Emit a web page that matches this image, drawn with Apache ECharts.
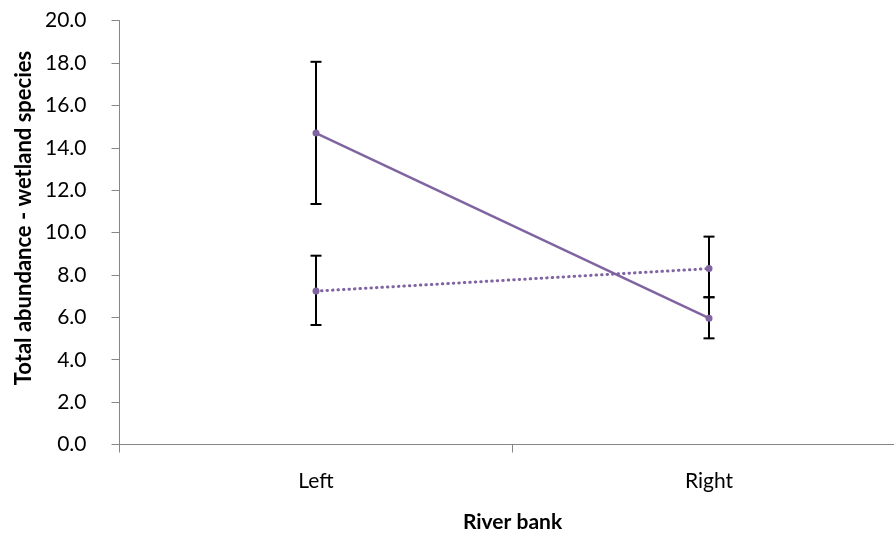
<!DOCTYPE html>
<html>
<head>
<meta charset="utf-8">
<script src="https://cdn.jsdelivr.net/npm/echarts@6/dist/echarts.min.js"></script>
<style>
  html, body { margin: 0; padding: 0; background: #ffffff; overflow: hidden; }
  #chart { width: 894px; height: 533px; }
</style>
</head>
<body>
<div id="chart"></div>
<script>
// River bank categories
const categories = ['Left', 'Right'];

// Group drawn with the solid line: means and error-bar limits
const solidMean = [14.7, 5.96];
const solidLow = [11.35, 5.01];
const solidHigh = [18.06, 6.95];

// Group drawn with the dotted line: means and error-bar limits
const dottedMean = [7.24, 8.30];
const dottedLow = [5.64, 6.95];
const dottedHigh = [8.91, 9.81];

// Value axis range
const yMin = 0;
const yMax = 20;
const yStep = 2;

const purple = '#8064A2';
const axisGray = '#868686';
const font = 'Lato, "Open Sans", sans-serif';

function errorSeries(low, high) {
  return {
    type: 'custom',
    z: 1,
    silent: true,
    clip: false,
    data: categories.map((c, i) => [i, low[i], high[i]]),
    encode: { x: 0, y: [1, 2] },
    renderItem: function (params, api) {
      const lo = api.coord([api.value(0), api.value(1)]);
      const hi = api.coord([api.value(0), api.value(2)]);
      const half = 5.5;
      const style = { stroke: '#000000', lineWidth: 2 };
      return {
        type: 'group',
        children: [
          { type: 'line', shape: { x1: lo[0], y1: lo[1], x2: hi[0], y2: hi[1] }, style: style },
          { type: 'line', shape: { x1: hi[0] - half, y1: hi[1], x2: hi[0] + half, y2: hi[1] }, style: style },
          { type: 'line', shape: { x1: lo[0] - half, y1: lo[1], x2: lo[0] + half, y2: lo[1] }, style: style }
        ]
      };
    }
  };
}

const chart = echarts.init(document.getElementById('chart'), null, { renderer: 'canvas' });

// The plot area runs past the right edge of the canvas
chart.setOption({
  backgroundColor: '#ffffff',
  animation: false,
  grid: {
    left: 119.5, top: 20.7, width: 786, height: 423.8,
    containLabel: false, outerBoundsMode: 'none'
  },
  xAxis: {
    type: 'category',
    data: categories,
    boundaryGap: true,
    name: 'River bank',
    nameLocation: 'middle',
    nameGap: 67,
    nameTextStyle: { fontFamily: font, fontWeight: 'bold', fontSize: 21, color: '#000000' },
    axisLine: { lineStyle: { color: axisGray, width: 1 } },
    axisTick: { show: true, alignWithLabel: false, length: 8, lineStyle: { color: axisGray } },
    axisLabel: { fontFamily: font, fontSize: 21, color: '#000000', margin: 26 },
    splitLine: { show: false }
  },
  yAxis: {
    type: 'value',
    min: yMin,
    max: yMax,
    interval: yStep,
    axisLine: { show: true, lineStyle: { color: axisGray, width: 1 } },
    axisTick: { show: true, length: 8, lineStyle: { color: axisGray } },
    axisLabel: {
      fontFamily: font, fontSize: 21, color: '#000000', margin: 33,
      formatter: v => v.toFixed(1)
    },
    splitLine: { show: false }
  },
  graphic: [{
    type: 'text',
    x: 24,
    y: 218,
    rotation: Math.PI / 2,
    style: {
      text: 'Total abundance - wetland species',
      fontFamily: font,
      fontWeight: 'bold',
      fontSize: 22,
      fill: '#000000',
      align: 'center',
      verticalAlign: 'middle'
    }
  }],
  series: [
    errorSeries(solidLow, solidHigh),
    errorSeries(dottedLow, dottedHigh),
    {
      type: 'line',
      z: 3,
      data: solidMean,
      symbol: 'circle',
      symbolSize: 7,
      itemStyle: { color: purple },
      lineStyle: { color: purple, width: 2.5, type: 'solid' }
    },
    {
      type: 'line',
      z: 3,
      data: dottedMean,
      symbol: 'circle',
      symbolSize: 7,
      itemStyle: { color: purple },
      lineStyle: { color: purple, width: 3, type: [0.5, 5], cap: 'round' }
    }
  ]
});
</script>
</body>
</html>
